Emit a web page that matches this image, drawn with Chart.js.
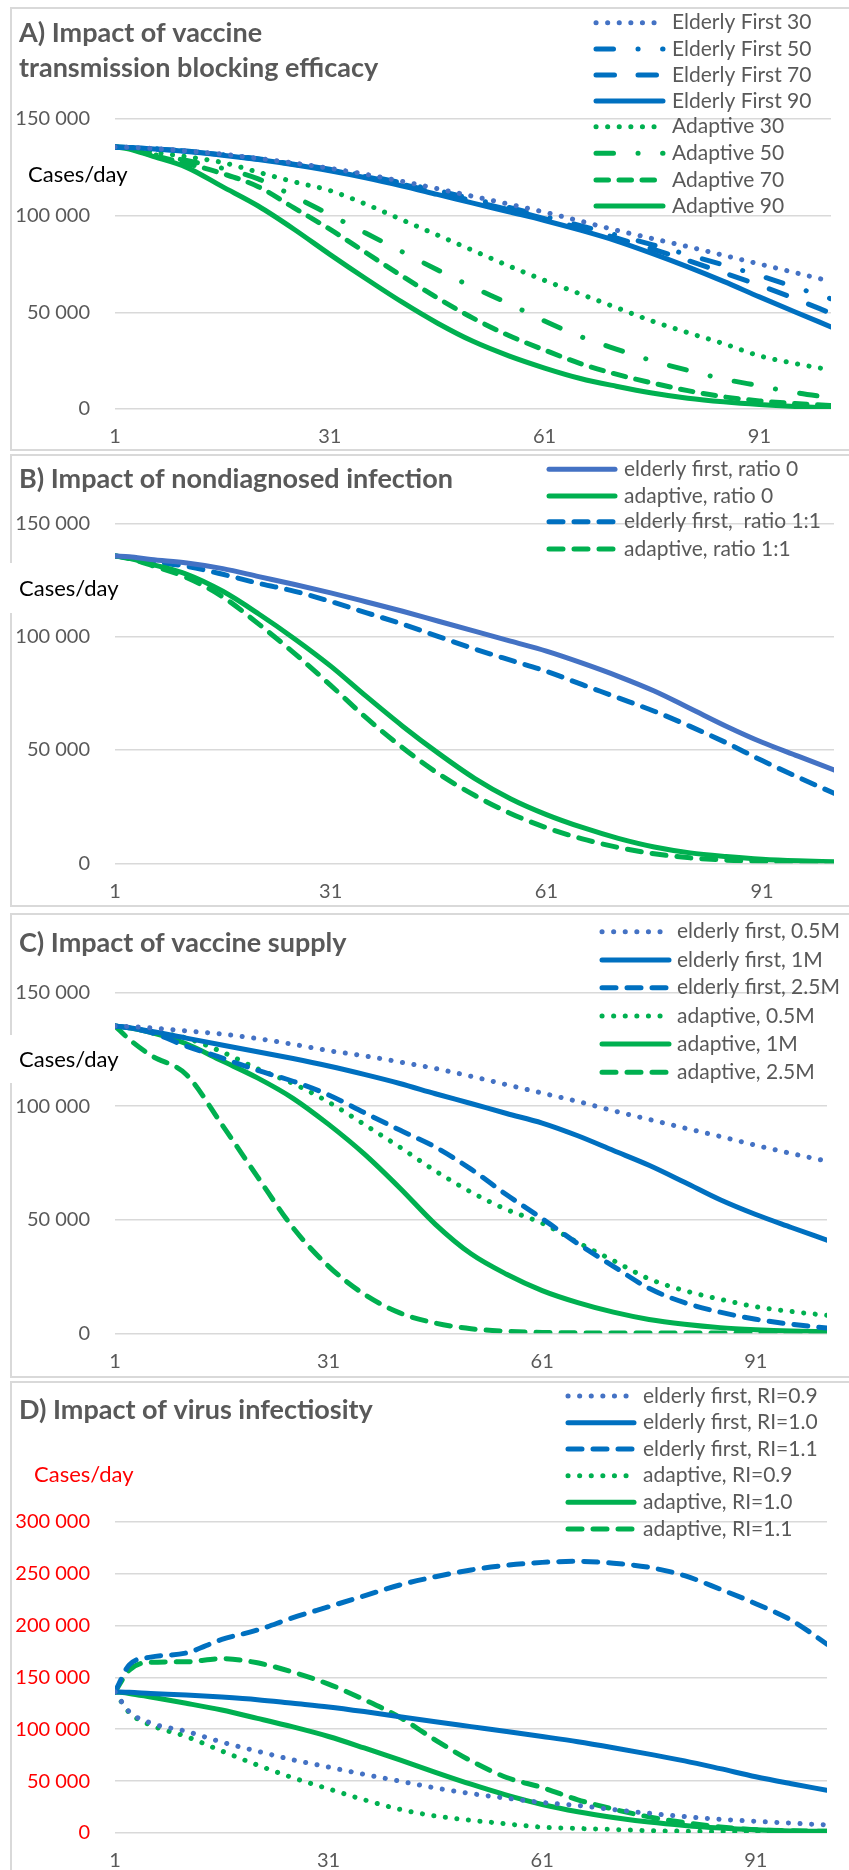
<!DOCTYPE html>
<html>
<head>
<meta charset="utf-8">
<script src="https://cdn.jsdelivr.net/npm/chart.js@4.4.1/dist/chart.umd.min.js"></script>
<style>
    body { margin: 0; background: #fff; }
    #page { position: relative; width: 849px; height: 1870px; overflow: hidden; background: #fff; }
    .panel { position: absolute; left: 10px; width: 870px; border: 2px solid #D9D9D9; box-sizing: border-box; }
    canvas { position: absolute; left: 0; }
</style>
</head>
<body>
<div id="page">
    <div class="panel" style="top:7px;height:444px"></div>
    <div class="panel" style="top:454px;height:453px"></div>
    <div class="panel" style="top:913px;height:465px"></div>
    <div class="panel" style="top:1381px;height:520px"></div>
    <canvas id="chartA"></canvas>
    <canvas id="chartB"></canvas>
    <canvas id="chartC"></canvas>
    <canvas id="chartD"></canvas>
</div>
<script>
// days of the simulation (x values), values below are in thousands of cases/day
var days = [1, 3, 6, 11, 16, 21, 26, 31, 36, 41, 46, 51, 56, 61, 66, 71, 76, 81, 86, 91, 96, 101];
var xTicks = [1, 31, 61, 91];

// A) vaccine transmission blocking efficacy
var labelsA = ['Elderly First 30', 'Elderly First 50', 'Elderly First 70', 'Elderly First 90',
    'Adaptive 30', 'Adaptive 50', 'Adaptive 70', 'Adaptive 90'];
var efA30 = [135.5, 135.3, 134.8, 133.5, 131.8, 129.6, 127.2, 124.5, 121.4, 117.8, 114, 110, 106, 101.8, 97.2, 92.5, 88.2, 84, 79.5, 75, 70.5, 66];
var efA50 = [135.5, 135.2, 134.7, 133.4, 131.6, 129.4, 126.9, 124, 120.7, 117, 113, 108.7, 104.3, 99.6, 94.8, 90, 85, 79.8, 74.5, 69, 63, 57];
var efA70 = [135.5, 135.2, 134.7, 133.3, 131.5, 129.2, 126.6, 123.6, 120.2, 116.3, 112, 107.6, 103.1, 98.5, 93.6, 88.5, 82.8, 76.8, 70.5, 64, 57, 49.5];
var efA90 = [135.5, 135.2, 134.6, 133.2, 131.3, 129, 126.3, 123.2, 119.6, 115.5, 111, 106.5, 102, 97.5, 92.5, 87, 80.5, 73.5, 66, 58, 50.2, 42.5];
var adA30 = [135.5, 135, 133, 130.5, 127.5, 122.5, 117.5, 113, 106, 98, 90, 82, 74, 66.5, 59.5, 52.5, 45.5, 39.5, 33.8, 27.5, 23.5, 20.2];
var adA50 = [135.5, 135, 132, 128.5, 124.5, 119, 110, 100.5, 91, 81.5, 72, 63, 54.5, 45.5, 37.5, 31, 25, 20, 15.5, 12, 8.5, 5.8];
var adA70 = [135.5, 134.8, 131.5, 127, 121.8, 115, 104, 93, 81, 69, 57.5, 47, 38, 30.5, 23.5, 18, 13.5, 9.5, 6.3, 4.2, 2.8, 1.8];
var adA90 = [135.5, 134.5, 131, 125, 115, 105, 93, 80, 67.5, 55.5, 44.5, 35, 27.5, 21.2, 15.8, 11.8, 8.3, 5.6, 3.7, 2.3, 1.3, 0.6];

// B) nondiagnosed infection
var labelsB = ['elderly first, ratio 0', 'adaptive, ratio 0', 'elderly first,  ratio 1:1', 'adaptive, ratio 1:1'];
var efB0 = [135.6, 135.2, 134, 132.5, 130, 126.5, 123, 119.3, 115.3, 111.2, 106.8, 102.4, 98, 93.6, 88.3, 82.5, 76, 68.3, 60.5, 53.4, 47.3, 41.2];
var adB0 = [135.6, 134.6, 132, 127.5, 120, 110, 99, 87, 73.5, 60.5, 48.5, 37.5, 28.5, 21.5, 15.8, 11, 7.2, 4.6, 3, 1.8, 1.1, 0.7];
var efB11 = [135.6, 134.8, 133.2, 131, 127.5, 123.5, 120, 115.5, 110.5, 105.5, 100, 94.6, 89.6, 84.7, 78.8, 73, 67.1, 60.4, 53.2, 45.3, 38, 30.9];
var adB11 = [135.6, 134.4, 131.5, 126, 117.5, 105.5, 92.5, 78.5, 64, 51, 39.5, 30, 22, 15.7, 10.8, 7, 4.2, 2.4, 1.4, 0.8, 0.5, 0.3];

// C) vaccine supply
var labelsC = ['elderly first, 0.5M', 'elderly first, 1M', 'elderly first, 2.5M',
    'adaptive, 0.5M', 'adaptive, 1M', 'adaptive, 2.5M'];
var efC05 = [135.3, 135.1, 134.5, 133.2, 131.8, 129.8, 127.3, 124.5, 122.2, 119.5, 116.6, 113.2, 109.5, 105.8, 102.1, 98, 94.2, 90.4, 86.7, 82.8, 79.2, 75.8];
var efC1 = [135.3, 134.6, 133, 130, 127, 124, 121, 117.7, 114, 110, 105.5, 101.2, 96.8, 92.6, 87, 80.5, 74, 66.5, 58.8, 52.3, 46.6, 41];
var efC25 = [135.3, 134.5, 132.5, 126.5, 121.3, 115.8, 111, 105, 97.2, 89.5, 82, 72.3, 61, 50.5, 39.5, 29.5, 19.8, 13.5, 9.3, 6.2, 4, 2.3];
var adC05 = [135.3, 134.6, 133, 130, 124, 116.5, 110, 101.8, 92, 82, 71.5, 62.2, 54.5, 48.5, 40, 32, 24, 18.8, 15, 11.7, 9.6, 7.9];
var adC1 = [135.3, 134.5, 132.5, 127.5, 120, 112.5, 103.5, 92, 79, 64, 48, 35, 26, 18.8, 13.5, 9.3, 6.1, 4, 2.5, 1.6, 1, 0.7];
var adC25 = [135.3, 129.5, 122.5, 114, 92, 69, 46.5, 29.5, 17.2, 9, 4.5, 2, 0.9, 0.4, 0.2, 0.1, 0.1, 0.1, 0.1, 0.1, 0.1, 0.1];

// D) virus infectiosity
var labelsD = ['elderly first, RI=0.9', 'elderly first, RI=1.0', 'elderly first, RI=1.1',
    'adaptive, RI=0.9', 'adaptive, RI=1.0', 'adaptive, RI=1.1'];
var efD09 = [136, 117, 106, 98, 87.6, 78.8, 70.5, 63.5, 56.5, 50, 43.4, 38, 33.5, 29.4, 26.5, 22.5, 19, 15.8, 13.2, 11.3, 9.5, 7.8];
var efD10 = [136, 135.6, 134.5, 133, 131, 128.5, 125, 121.5, 117, 112, 107.2, 102.5, 97.8, 93, 88, 82.2, 76, 69.5, 62, 54.2, 47.5, 41.2];
var efD11 = [136, 162, 169.5, 173.5, 186.5, 195.6, 207.5, 218, 228.5, 239, 247, 253.5, 258, 260.8, 261.8, 260, 256, 248, 235, 221, 205, 182];
var adD09 = [136, 116, 104, 93, 79, 65.5, 53.2, 42.5, 32, 22.8, 16.4, 12.3, 8.8, 5.6, 4.4, 3.4, 2.3, 1.8, 1.4, 1.1, 0.8, 0.6];
var adD10 = [136, 134.5, 131, 125, 118.5, 110.5, 102.2, 93, 82, 70.5, 58.5, 47, 36.5, 27.5, 20.5, 15, 10.5, 7.2, 4.8, 3.1, 2, 1.6];
var adD11 = [136, 157, 164.5, 165, 168, 164, 155, 143.5, 128.5, 111.5, 89.5, 69.5, 53.5, 43.8, 32, 23, 15.5, 10, 5.8, 3.2, 2.2, 1.6];

// colours and line styles
var blueLight = '#4472C4';
var blue = '#0070C0';
var green = '#00B050';
var solid = [];
var dotted = [0.1, 11.5];
var dashDot = [17.5, 24.5, 0.1, 24.5];
var longDash = [18.5, 23.5];
var shortDash = [12.5, 10.5];
var dash = [14, 11];

function series(label, values, color, pattern) {
    return {
        label: label,
        data: values.map(function (v, i) { return { x: days[i], y: v * 1000 }; }),
        borderColor: color,
        borderWidth: 5,
        borderDash: pattern,
        borderCapStyle: 'round',
        borderJoinStyle: 'round',
        pointRadius: 0,
        cubicInterpolationMode: 'monotone',
        fill: false
    };
}

// formats 150000 as "150 000"
function spaced(v) {
    return String(v).replace(/\B(?=(\d{3})+(?!\d))/g, ' ');
}

// draws title, axis title and legend of a panel
var panelDecor = {
    id: 'panelDecor',
    afterDraw: function (chart, args, o) {
        var ctx = chart.ctx;
        ctx.save();
        ctx.textAlign = 'left';
        ctx.textBaseline = 'middle';

        ctx.fillStyle = '#595959';
        ctx.font = 'bold 27px Lato';
        o.title.forEach(function (t, i) { ctx.fillText(t, 19, o.titleY[i]); });

        if (o.box) {
            ctx.fillStyle = '#fff';
            ctx.fillRect(o.box[0], o.box[1], o.box[2], o.box[3]);
        }
        ctx.fillStyle = o.casesColor;
        ctx.font = '22px Lato';
        ctx.fillText('Cases/day', o.casesX, o.casesY);

        chart.data.datasets.forEach(function (ds, i) {
            var y = o.legendY[i];
            ctx.beginPath();
            ctx.strokeStyle = ds.borderColor;
            ctx.lineWidth = ds.borderWidth;
            ctx.lineCap = 'round';
            ctx.setLineDash(ds.borderDash);
            ctx.moveTo(o.legendX[0], y);
            ctx.lineTo(o.legendX[1], y);
            ctx.stroke();
            ctx.setLineDash([]);
            ctx.fillStyle = '#595959';
            ctx.font = '21px Lato';
            ctx.fillText(ds.label, o.legendX[2], y);
        });
        ctx.restore();
    }
};

// builds one panel; positions are given in page pixels
function makePanel(id, p, datasets, yMax, tickColor) {
    var canvas = document.getElementById(id);
    canvas.width = 849;
    canvas.height = p.height;
    canvas.style.top = p.top + 'px';
    var t = p.top;

    var decor = {
        title: p.title,
        titleY: p.titleY.map(function (y) { return y - t; }),
        casesX: p.casesX,
        casesY: p.casesY - t,
        casesColor: p.casesColor,
        box: p.box ? [p.box[0], p.box[1] - t, p.box[2], p.box[3]] : null,
        legendX: p.legendX,
        legendY: p.legendY.map(function (y) { return y - t; })
    };

    return new Chart(canvas, {
        type: 'line',
        data: { datasets: datasets },
        options: {
            responsive: false,
            animation: false,
            devicePixelRatio: 1,
            layout: { padding: { top: p.plot[2] - t, left: 0, right: 849 - p.plot[1], bottom: 0 } },
            plugins: {
                legend: { display: false },
                tooltip: { enabled: false },
                panelDecor: decor
            },
            scales: {
                x: {
                    type: 'linear',
                    min: 1,
                    max: 101,
                    afterBuildTicks: function (scale) {
                        scale.ticks = xTicks.map(function (v) { return { value: v }; });
                    },
                    afterFit: function (scale) { scale.height = p.height - (p.plot[3] - t); },
                    grid: { display: false },
                    border: { display: false },
                    ticks: {
                        autoSkip: false,
                        maxRotation: 0,
                        padding: 8,
                        color: '#595959',
                        font: { family: 'Lato', size: 20 }
                    }
                },
                y: {
                    min: 0,
                    max: yMax,
                    afterFit: function (scale) { scale.width = p.plot[0]; },
                    grid: { color: '#D9D9D9', lineWidth: 1.5, drawTicks: false },
                    border: { display: false },
                    ticks: {
                        stepSize: 50000,
                        padding: 25,
                        color: tickColor,
                        font: { family: 'Lato', size: 20 },
                        callback: spaced
                    }
                }
            }
        },
        plugins: [panelDecor]
    });
}

makePanel('chartA', {
    top: 7, height: 444, plot: [115, 831, 119, 409],
    title: ['A) Impact of vaccine', 'transmission blocking efficacy'], titleY: [33, 68],
    casesX: 28, casesY: 175, casesColor: '#000',
    legendX: [596, 663, 672], legendY: [22.7, 49, 75, 101, 126.7, 153.3, 180, 206]
}, [
    series(labelsA[0], efA30, blueLight, dotted),
    series(labelsA[1], efA50, blue, dashDot),
    series(labelsA[2], efA70, blue, longDash),
    series(labelsA[3], efA90, blue, solid),
    series(labelsA[4], adA30, green, dotted),
    series(labelsA[5], adA50, green, dashDot),
    series(labelsA[6], adA70, green, shortDash),
    series(labelsA[7], adA90, green, solid)
], 150000, '#595959');

makePanel('chartB', {
    top: 454, height: 453, plot: [115, 834, 523.3, 863.3],
    title: ['B) Impact of nondiagnosed infection'], titleY: [479.3],
    casesX: 19, casesY: 589, casesColor: '#000', box: [8, 563, 108, 50],
    legendX: [549, 615, 624], legendY: [469.3, 496, 521.7, 549]
}, [
    series(labelsB[0], efB0, blueLight, solid),
    series(labelsB[1], adB0, green, solid),
    series(labelsB[2], efB11, blue, dash),
    series(labelsB[3], adB11, green, dash)
], 150000, '#595959');

makePanel('chartC', {
    top: 913, height: 465, plot: [115, 827, 992.7, 1333.3],
    title: ['C) Impact of vaccine supply'], titleY: [943.3],
    casesX: 19, casesY: 1060, casesColor: '#000', box: [8, 1035, 108, 48],
    legendX: [602, 669, 677], legendY: [931.7, 960, 987.7, 1016, 1044, 1072.3]
}, [
    series(labelsC[0], efC05, blueLight, dotted),
    series(labelsC[1], efC1, blue, solid),
    series(labelsC[2], efC25, blue, dash),
    series(labelsC[3], adC05, green, dotted),
    series(labelsC[4], adC1, green, solid),
    series(labelsC[5], adC25, green, dash)
], 150000, '#595959');

makePanel('chartD', {
    top: 1381, height: 489, plot: [115, 827, 1521.7, 1835.7],
    title: ['D) Impact of virus infectiosity'], titleY: [1410],
    casesX: 34, casesY: 1475, casesColor: '#FF0000',
    legendX: [568, 634, 643], legendY: [1396, 1422.7, 1449, 1475.7, 1502.3, 1529]
}, [
    series(labelsD[0], efD09, blueLight, dotted),
    series(labelsD[1], efD10, blue, solid),
    series(labelsD[2], efD11, blue, dash),
    series(labelsD[3], adD09, green, dotted),
    series(labelsD[4], adD10, green, solid),
    series(labelsD[5], adD11, green, dash)
], 300000, '#FF0000');
</script>
</body>
</html>
